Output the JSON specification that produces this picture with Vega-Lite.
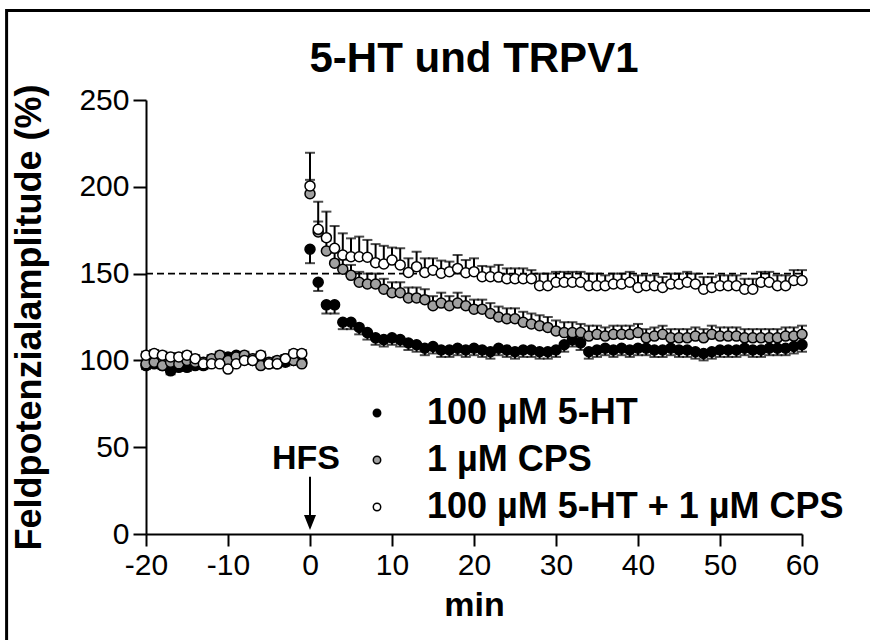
{
  "$schema": "https://vega.github.io/schema/vega-lite/v6.json",
  "autosize": "none",
  "width": 656,
  "height": 434,
  "padding": {"left": 146, "top": 100, "right": 68, "bottom": 106},
  "background": "white",
  "config": {
    "view": {"stroke": null},
    "font": "Liberation Sans",
    "axis": {"grid": false, "domainColor": "black", "domainWidth": 2, "tickColor": "black", "tickWidth": 2, "labelFlush": false,
      "labelFont": "Liberation Sans", "labelFontSize": 30, "labelColor": "black", "labelPadding": 4,
      "titleFont": "Liberation Sans", "titleFontSize": 34, "titleFontWeight": "bold", "titleColor": "black"},
    "axisX": {"tickSize": 12, "titlePadding": 8},
    "axisY": {"tickSize": 13, "titlePadding": 30, "titleFontSize": 36}
  },
  "title": {"text": "5-HT und TRPV1", "fontSize": 42, "fontWeight": "bold", "font": "Liberation Sans", "color": "black", "anchor": "middle", "frame": "group", "offset": 0, "dy": 72},
  "datasets": {
    "frame": [{"x1": -37, "x2": 90, "y1": -100, "y2": 301.6}],
    "ref": [{"x1": -20, "x2": 60, "v": 150}],
    "hfs": [{"t": 0, "v": 43, "label": "HFS", "top": 33, "bottom": 8, "head": 6.6}],
    "pts": [
      {"s":"100 µM 5-HT","t":-20,"v":97,"e":95},{"s":"100 µM 5-HT","t":-19,"v":98,"e":96},{"s":"100 µM 5-HT","t":-18,"v":97,"e":95},{"s":"100 µM 5-HT","t":-17,"v":94,"e":92},{"s":"100 µM 5-HT","t":-16,"v":96,"e":94},{"s":"100 µM 5-HT","t":-15,"v":96,"e":94},{"s":"100 µM 5-HT","t":-14,"v":97,"e":95},{"s":"100 µM 5-HT","t":-13,"v":97,"e":95},{"s":"100 µM 5-HT","t":-12,"v":99,"e":97},{"s":"100 µM 5-HT","t":-11,"v":102,"e":100},{"s":"100 µM 5-HT","t":-10,"v":102,"e":100},{"s":"100 µM 5-HT","t":-9,"v":103,"e":101},{"s":"100 µM 5-HT","t":-8,"v":101,"e":99},{"s":"100 µM 5-HT","t":-7,"v":100,"e":98},{"s":"100 µM 5-HT","t":-6,"v":99,"e":97},{"s":"100 µM 5-HT","t":-5,"v":98,"e":96},{"s":"100 µM 5-HT","t":-4,"v":98,"e":96},{"s":"100 µM 5-HT","t":-3,"v":99,"e":97},{"s":"100 µM 5-HT","t":-2,"v":100,"e":98},{"s":"100 µM 5-HT","t":-1,"v":99,"e":97},
      {"s":"100 µM 5-HT","t":0,"v":164,"e":156},{"s":"100 µM 5-HT","t":1,"v":145,"e":140},{"s":"100 µM 5-HT","t":2,"v":132,"e":127},{"s":"100 µM 5-HT","t":3,"v":132,"e":127},{"s":"100 µM 5-HT","t":4,"v":122,"e":118},{"s":"100 µM 5-HT","t":5,"v":122,"e":118},{"s":"100 µM 5-HT","t":6,"v":119,"e":115},{"s":"100 µM 5-HT","t":7,"v":116,"e":112},{"s":"100 µM 5-HT","t":8,"v":113,"e":109},{"s":"100 µM 5-HT","t":9,"v":112,"e":108},{"s":"100 µM 5-HT","t":10,"v":113,"e":109},{"s":"100 µM 5-HT","t":11,"v":112,"e":108},{"s":"100 µM 5-HT","t":12,"v":110,"e":106},{"s":"100 µM 5-HT","t":13,"v":109,"e":105},{"s":"100 µM 5-HT","t":14,"v":107,"e":103},{"s":"100 µM 5-HT","t":15,"v":108,"e":104},{"s":"100 µM 5-HT","t":16,"v":106,"e":102},{"s":"100 µM 5-HT","t":17,"v":106,"e":102},{"s":"100 µM 5-HT","t":18,"v":107,"e":103},{"s":"100 µM 5-HT","t":19,"v":106,"e":102},{"s":"100 µM 5-HT","t":20,"v":107,"e":103},{"s":"100 µM 5-HT","t":21,"v":106,"e":102},{"s":"100 µM 5-HT","t":22,"v":105,"e":101},{"s":"100 µM 5-HT","t":23,"v":107,"e":103},{"s":"100 µM 5-HT","t":24,"v":106,"e":102},{"s":"100 µM 5-HT","t":25,"v":105,"e":101},{"s":"100 µM 5-HT","t":26,"v":106,"e":102},{"s":"100 µM 5-HT","t":27,"v":106,"e":102},{"s":"100 µM 5-HT","t":28,"v":105,"e":101},{"s":"100 µM 5-HT","t":29,"v":105,"e":101},{"s":"100 µM 5-HT","t":30,"v":106,"e":102},{"s":"100 µM 5-HT","t":31,"v":109,"e":105},{"s":"100 µM 5-HT","t":32,"v":112,"e":108},{"s":"100 µM 5-HT","t":33,"v":110,"e":106},{"s":"100 µM 5-HT","t":34,"v":105,"e":101},{"s":"100 µM 5-HT","t":35,"v":106,"e":102},{"s":"100 µM 5-HT","t":36,"v":107,"e":103},{"s":"100 µM 5-HT","t":37,"v":106,"e":102},{"s":"100 µM 5-HT","t":38,"v":107,"e":103},{"s":"100 µM 5-HT","t":39,"v":106,"e":102},{"s":"100 µM 5-HT","t":40,"v":107,"e":103},{"s":"100 µM 5-HT","t":41,"v":107,"e":103},{"s":"100 µM 5-HT","t":42,"v":106,"e":102},{"s":"100 µM 5-HT","t":43,"v":106,"e":102},{"s":"100 µM 5-HT","t":44,"v":107,"e":103},{"s":"100 µM 5-HT","t":45,"v":106,"e":102},{"s":"100 µM 5-HT","t":46,"v":106,"e":102},{"s":"100 µM 5-HT","t":47,"v":105,"e":101},{"s":"100 µM 5-HT","t":48,"v":104,"e":100},{"s":"100 µM 5-HT","t":49,"v":105,"e":101},{"s":"100 µM 5-HT","t":50,"v":106,"e":102},{"s":"100 µM 5-HT","t":51,"v":106,"e":102},{"s":"100 µM 5-HT","t":52,"v":106,"e":102},{"s":"100 µM 5-HT","t":53,"v":107,"e":103},{"s":"100 µM 5-HT","t":54,"v":106,"e":102},{"s":"100 µM 5-HT","t":55,"v":106,"e":102},{"s":"100 µM 5-HT","t":56,"v":107,"e":103},{"s":"100 µM 5-HT","t":57,"v":107,"e":103},{"s":"100 µM 5-HT","t":58,"v":107,"e":103},{"s":"100 µM 5-HT","t":59,"v":108,"e":104},{"s":"100 µM 5-HT","t":60,"v":109,"e":105},
      {"s":"1 µM CPS","t":-20,"v":98,"e":100},{"s":"1 µM CPS","t":-19,"v":99,"e":101},{"s":"1 µM CPS","t":-18,"v":97,"e":99},{"s":"1 µM CPS","t":-17,"v":99,"e":101},{"s":"1 µM CPS","t":-16,"v":98,"e":100},{"s":"1 µM CPS","t":-15,"v":100,"e":102},{"s":"1 µM CPS","t":-14,"v":99,"e":101},{"s":"1 µM CPS","t":-13,"v":99,"e":101},{"s":"1 µM CPS","t":-12,"v":101,"e":103},{"s":"1 µM CPS","t":-11,"v":103,"e":105},{"s":"1 µM CPS","t":-10,"v":100,"e":102},{"s":"1 µM CPS","t":-9,"v":102,"e":104},{"s":"1 µM CPS","t":-8,"v":103,"e":105},{"s":"1 µM CPS","t":-7,"v":101,"e":103},{"s":"1 µM CPS","t":-6,"v":97,"e":99},{"s":"1 µM CPS","t":-5,"v":99,"e":101},{"s":"1 µM CPS","t":-4,"v":100,"e":102},{"s":"1 µM CPS","t":-3,"v":101,"e":103},{"s":"1 µM CPS","t":-2,"v":100,"e":102},{"s":"1 µM CPS","t":-1,"v":98,"e":100},
      {"s":"1 µM CPS","t":0,"v":196,"e":204},{"s":"1 µM CPS","t":1,"v":174,"e":180},{"s":"1 µM CPS","t":2,"v":163,"e":169},{"s":"1 µM CPS","t":3,"v":156,"e":162},{"s":"1 µM CPS","t":4,"v":152.5,"e":158},{"s":"1 µM CPS","t":5,"v":149,"e":155},{"s":"1 µM CPS","t":6,"v":145,"e":151},{"s":"1 µM CPS","t":7,"v":144,"e":150},{"s":"1 µM CPS","t":8,"v":144,"e":150},{"s":"1 µM CPS","t":9,"v":141,"e":147},{"s":"1 µM CPS","t":10,"v":139,"e":145},{"s":"1 µM CPS","t":11,"v":139,"e":145},{"s":"1 µM CPS","t":12,"v":136,"e":142},{"s":"1 µM CPS","t":13,"v":136,"e":142},{"s":"1 µM CPS","t":14,"v":135,"e":141},{"s":"1 µM CPS","t":15,"v":131.5,"e":137},{"s":"1 µM CPS","t":16,"v":133,"e":139},{"s":"1 µM CPS","t":17,"v":131.5,"e":137},{"s":"1 µM CPS","t":18,"v":133,"e":139},{"s":"1 µM CPS","t":19,"v":131.5,"e":137},{"s":"1 µM CPS","t":20,"v":129.5,"e":135},{"s":"1 µM CPS","t":21,"v":129.5,"e":135},{"s":"1 µM CPS","t":22,"v":127,"e":133},{"s":"1 µM CPS","t":23,"v":125,"e":131},{"s":"1 µM CPS","t":24,"v":124,"e":130},{"s":"1 µM CPS","t":25,"v":124,"e":130},{"s":"1 µM CPS","t":26,"v":122,"e":128},{"s":"1 µM CPS","t":27,"v":121,"e":127},{"s":"1 µM CPS","t":28,"v":120,"e":126},{"s":"1 µM CPS","t":29,"v":119,"e":125},{"s":"1 µM CPS","t":30,"v":117,"e":123},{"s":"1 µM CPS","t":31,"v":116,"e":122},{"s":"1 µM CPS","t":32,"v":116,"e":122},{"s":"1 µM CPS","t":33,"v":116,"e":121},{"s":"1 µM CPS","t":34,"v":114,"e":120},{"s":"1 µM CPS","t":35,"v":115,"e":120},{"s":"1 µM CPS","t":36,"v":114,"e":119},{"s":"1 µM CPS","t":37,"v":115,"e":120},{"s":"1 µM CPS","t":38,"v":115,"e":120},{"s":"1 µM CPS","t":39,"v":115,"e":120},{"s":"1 µM CPS","t":40,"v":116,"e":121},{"s":"1 µM CPS","t":41,"v":113,"e":118},{"s":"1 µM CPS","t":42,"v":114,"e":119},{"s":"1 µM CPS","t":43,"v":115,"e":120},{"s":"1 µM CPS","t":44,"v":113,"e":118},{"s":"1 µM CPS","t":45,"v":113,"e":118},{"s":"1 µM CPS","t":46,"v":113,"e":118},{"s":"1 µM CPS","t":47,"v":114,"e":119},{"s":"1 µM CPS","t":48,"v":113,"e":118},{"s":"1 µM CPS","t":49,"v":115,"e":120},{"s":"1 µM CPS","t":50,"v":114,"e":119},{"s":"1 µM CPS","t":51,"v":114,"e":119},{"s":"1 µM CPS","t":52,"v":114,"e":119},{"s":"1 µM CPS","t":53,"v":113,"e":118},{"s":"1 µM CPS","t":54,"v":113,"e":118},{"s":"1 µM CPS","t":55,"v":113,"e":118},{"s":"1 µM CPS","t":56,"v":113,"e":118},{"s":"1 µM CPS","t":57,"v":113,"e":118},{"s":"1 µM CPS","t":58,"v":114,"e":119},{"s":"1 µM CPS","t":59,"v":114,"e":119},{"s":"1 µM CPS","t":60,"v":115,"e":120},
      {"s":"100 µM 5-HT + 1 µM CPS","t":-20,"v":103,"e":105},{"s":"100 µM 5-HT + 1 µM CPS","t":-19,"v":104,"e":106},{"s":"100 µM 5-HT + 1 µM CPS","t":-18,"v":103,"e":105},{"s":"100 µM 5-HT + 1 µM CPS","t":-17,"v":102,"e":104},{"s":"100 µM 5-HT + 1 µM CPS","t":-16,"v":102,"e":104},{"s":"100 µM 5-HT + 1 µM CPS","t":-15,"v":103,"e":105},{"s":"100 µM 5-HT + 1 µM CPS","t":-14,"v":101,"e":103},{"s":"100 µM 5-HT + 1 µM CPS","t":-13,"v":98,"e":100},{"s":"100 µM 5-HT + 1 µM CPS","t":-12,"v":98,"e":100},{"s":"100 µM 5-HT + 1 µM CPS","t":-11,"v":98,"e":100},{"s":"100 µM 5-HT + 1 µM CPS","t":-10,"v":95,"e":97},{"s":"100 µM 5-HT + 1 µM CPS","t":-9,"v":98,"e":100},{"s":"100 µM 5-HT + 1 µM CPS","t":-8,"v":100,"e":102},{"s":"100 µM 5-HT + 1 µM CPS","t":-7,"v":100,"e":102},{"s":"100 µM 5-HT + 1 µM CPS","t":-6,"v":103,"e":105},{"s":"100 µM 5-HT + 1 µM CPS","t":-5,"v":98,"e":100},{"s":"100 µM 5-HT + 1 µM CPS","t":-4,"v":98,"e":100},{"s":"100 µM 5-HT + 1 µM CPS","t":-3,"v":101,"e":103},{"s":"100 µM 5-HT + 1 µM CPS","t":-2,"v":104,"e":106},{"s":"100 µM 5-HT + 1 µM CPS","t":-1,"v":104,"e":106},
      {"s":"100 µM 5-HT + 1 µM CPS","t":0,"v":200.5,"e":219.6},{"s":"100 µM 5-HT + 1 µM CPS","t":1,"v":175.5,"e":191.4},{"s":"100 µM 5-HT + 1 µM CPS","t":2,"v":170.7,"e":185.7},{"s":"100 µM 5-HT + 1 µM CPS","t":3,"v":164.6,"e":177.4},{"s":"100 µM 5-HT + 1 µM CPS","t":4,"v":160.7,"e":173.2},{"s":"100 µM 5-HT + 1 µM CPS","t":5,"v":159.7,"e":170.3},{"s":"100 µM 5-HT + 1 µM CPS","t":6,"v":159.7,"e":171.3},{"s":"100 µM 5-HT + 1 µM CPS","t":7,"v":159.4,"e":169.4},{"s":"100 µM 5-HT + 1 µM CPS","t":8,"v":156.3,"e":167},{"s":"100 µM 5-HT + 1 µM CPS","t":9,"v":155.5,"e":166},{"s":"100 µM 5-HT + 1 µM CPS","t":10,"v":157.8,"e":165},{"s":"100 µM 5-HT + 1 µM CPS","t":11,"v":155,"e":164.6},{"s":"100 µM 5-HT + 1 µM CPS","t":12,"v":150.7,"e":158.8},{"s":"100 µM 5-HT + 1 µM CPS","t":13,"v":154,"e":162.6},{"s":"100 µM 5-HT + 1 µM CPS","t":14,"v":150.7,"e":158.8},{"s":"100 µM 5-HT + 1 µM CPS","t":15,"v":152,"e":158.8},{"s":"100 µM 5-HT + 1 µM CPS","t":16,"v":150.2,"e":157.5},{"s":"100 µM 5-HT + 1 µM CPS","t":17,"v":151.1,"e":156.9},{"s":"100 µM 5-HT + 1 µM CPS","t":18,"v":153,"e":160.7},{"s":"100 µM 5-HT + 1 µM CPS","t":19,"v":150.5,"e":157.8},{"s":"100 µM 5-HT + 1 µM CPS","t":20,"v":151.1,"e":158.8},{"s":"100 µM 5-HT + 1 µM CPS","t":21,"v":148.2,"e":154.4},{"s":"100 µM 5-HT + 1 µM CPS","t":22,"v":148.2,"e":154},{"s":"100 µM 5-HT + 1 µM CPS","t":23,"v":148,"e":155},{"s":"100 µM 5-HT + 1 µM CPS","t":24,"v":147,"e":153},{"s":"100 µM 5-HT + 1 µM CPS","t":25,"v":147,"e":153},{"s":"100 µM 5-HT + 1 µM CPS","t":26,"v":147,"e":153},{"s":"100 µM 5-HT + 1 µM CPS","t":27,"v":147,"e":152},{"s":"100 µM 5-HT + 1 µM CPS","t":28,"v":143,"e":150},{"s":"100 µM 5-HT + 1 µM CPS","t":29,"v":143,"e":150},{"s":"100 µM 5-HT + 1 µM CPS","t":30,"v":145,"e":151},{"s":"100 µM 5-HT + 1 µM CPS","t":31,"v":145,"e":151},{"s":"100 µM 5-HT + 1 µM CPS","t":32,"v":145,"e":151},{"s":"100 µM 5-HT + 1 µM CPS","t":33,"v":145,"e":151},{"s":"100 µM 5-HT + 1 µM CPS","t":34,"v":143,"e":150},{"s":"100 µM 5-HT + 1 µM CPS","t":35,"v":143,"e":150},{"s":"100 µM 5-HT + 1 µM CPS","t":36,"v":143,"e":149},{"s":"100 µM 5-HT + 1 µM CPS","t":37,"v":144,"e":150},{"s":"100 µM 5-HT + 1 µM CPS","t":38,"v":144,"e":150},{"s":"100 µM 5-HT + 1 µM CPS","t":39,"v":145,"e":151},{"s":"100 µM 5-HT + 1 µM CPS","t":40,"v":142,"e":149},{"s":"100 µM 5-HT + 1 µM CPS","t":41,"v":143,"e":149},{"s":"100 µM 5-HT + 1 µM CPS","t":42,"v":143,"e":149},{"s":"100 µM 5-HT + 1 µM CPS","t":43,"v":142,"e":148},{"s":"100 µM 5-HT + 1 µM CPS","t":44,"v":144,"e":150},{"s":"100 µM 5-HT + 1 µM CPS","t":45,"v":144,"e":150},{"s":"100 µM 5-HT + 1 µM CPS","t":46,"v":145,"e":151},{"s":"100 µM 5-HT + 1 µM CPS","t":47,"v":144,"e":150},{"s":"100 µM 5-HT + 1 µM CPS","t":48,"v":141,"e":148},{"s":"100 µM 5-HT + 1 µM CPS","t":49,"v":142,"e":148},{"s":"100 µM 5-HT + 1 µM CPS","t":50,"v":143,"e":149},{"s":"100 µM 5-HT + 1 µM CPS","t":51,"v":143,"e":149},{"s":"100 µM 5-HT + 1 µM CPS","t":52,"v":143,"e":149},{"s":"100 µM 5-HT + 1 µM CPS","t":53,"v":141,"e":147},{"s":"100 µM 5-HT + 1 µM CPS","t":54,"v":141,"e":147},{"s":"100 µM 5-HT + 1 µM CPS","t":55,"v":145,"e":151},{"s":"100 µM 5-HT + 1 µM CPS","t":56,"v":145,"e":151},{"s":"100 µM 5-HT + 1 µM CPS","t":57,"v":143,"e":149},{"s":"100 µM 5-HT + 1 µM CPS","t":58,"v":143,"e":149},{"s":"100 µM 5-HT + 1 µM CPS","t":59,"v":146,"e":152},{"s":"100 µM 5-HT + 1 µM CPS","t":60,"v":146,"e":152}
    ]
  },
  "layer": [
    {
      "data": {"name": "frame"},
      "mark": {"type": "rect", "filled": false, "stroke": "black", "strokeWidth": 3, "clip": false},
      "encoding": {
        "x": {"field": "x1", "type": "quantitative", "title": "min", "scale": {"domain": [-20, 60], "nice": false, "zero": false}},
        "x2": {"field": "x2"},
        "y": {"field": "y1", "type": "quantitative", "title": "Feldpotenzialamplitude (%)", "scale": {"domain": [0, 250], "nice": false, "zero": false}},
        "y2": {"field": "y2"}
      }
    },
    {
      "data": {"name": "ref"},
      "mark": {"type": "rule", "stroke": "black", "strokeWidth": 1.6, "strokeDash": [7, 4]},
      "encoding": {
        "x": {"field": "x1", "type": "quantitative", "title": "min", "scale": {"domain": [-20, 60], "nice": false, "zero": false}},
        "x2": {"field": "x2"},
        "y": {"field": "v", "type": "quantitative", "title": "Feldpotenzialamplitude (%)", "scale": {"domain": [0, 250], "nice": false, "zero": false}}
      }
    },
    {
      "data": {"name": "pts"},
      "mark": {"type": "rule", "stroke": "black", "strokeWidth": 2},
      "encoding": {
        "x": {"field": "t", "type": "quantitative", "title": "min", "scale": {"domain": [-20, 60], "nice": false, "zero": false}},
        "y": {"field": "v", "type": "quantitative", "title": "Feldpotenzialamplitude (%)", "scale": {"domain": [0, 250], "nice": false, "zero": false}},
        "y2": {"field": "e"}
      }
    },
    {
      "data": {"name": "pts"},
      "mark": {"type": "tick", "orient": "horizontal", "color": "black", "size": 10, "thickness": 2},
      "encoding": {
        "x": {"field": "t", "type": "quantitative", "title": "min", "scale": {"domain": [-20, 60], "nice": false, "zero": false}},
        "y": {"field": "e", "type": "quantitative", "title": "Feldpotenzialamplitude (%)", "scale": {"domain": [0, 250], "nice": false, "zero": false}}
      }
    },
    {
      "data": {"name": "pts"},
      "mark": {"type": "point", "shape": "circle", "filled": true, "stroke": "black", "strokeWidth": 1.5, "size": 100, "opacity": 1},
      "encoding": {
        "x": {
          "field": "t", "type": "quantitative", "title": "min",
          "scale": {"domain": [-20, 60], "nice": false, "zero": false},
          "axis": {"values": [-20, -10, 0, 10, 20, 30, 40, 50, 60], "labelExpr": "replace(datum.label, '−', '-')"}
        },
        "y": {
          "field": "v", "type": "quantitative", "title": "Feldpotenzialamplitude (%)",
          "scale": {"domain": [0, 250], "nice": false, "zero": false},
          "axis": {"values": [0, 50, 100, 150, 200, 250]}
        },
        "fill": {
          "field": "s", "type": "nominal",
          "scale": {"domain": ["100 µM 5-HT", "1 µM CPS", "100 µM 5-HT + 1 µM CPS"], "range": ["black", "#a0a0a0", "white"]},
          "legend": {
            "title": null, "orient": "none", "legendX": 213, "legendY": 295, "padding": 0,
            "symbolType": "circle", "symbolSize": 55, "symbolStrokeColor": "black", "symbolStrokeWidth": 1.5, "symbolOpacity": 1,
            "labelFont": "Liberation Sans", "labelFontSize": 36, "labelFontWeight": "bold", "labelColor": "black",
            "labelOffset": 32, "rowPadding": 11, "labelLimit": 600
          }
        }
      }
    },
    {
      "data": {"name": "hfs"},
      "mark": {"type": "text", "font": "Liberation Sans", "fontSize": 34, "fontWeight": "bold", "color": "black", "baseline": "middle", "align": "center", "dx": -4},
      "encoding": {
        "x": {"field": "t", "type": "quantitative", "title": "min", "scale": {"domain": [-20, 60], "nice": false, "zero": false}},
        "y": {"field": "v", "type": "quantitative", "title": "Feldpotenzialamplitude (%)", "scale": {"domain": [0, 250], "nice": false, "zero": false}},
        "text": {"field": "label"}
      }
    },
    {
      "data": {"name": "hfs"},
      "mark": {"type": "rule", "stroke": "black", "strokeWidth": 2},
      "encoding": {
        "x": {"field": "t", "type": "quantitative", "title": "min", "scale": {"domain": [-20, 60], "nice": false, "zero": false}},
        "y": {"field": "top", "type": "quantitative", "title": "Feldpotenzialamplitude (%)", "scale": {"domain": [0, 250], "nice": false, "zero": false}},
        "y2": {"field": "bottom"}
      }
    },
    {
      "data": {"name": "hfs"},
      "mark": {"type": "point", "shape": "M-0.8,-1L0.8,-1L0,1Z", "filled": true, "color": "black", "size": 225, "opacity": 1},
      "encoding": {
        "x": {"field": "t", "type": "quantitative", "title": "min", "scale": {"domain": [-20, 60], "nice": false, "zero": false}},
        "y": {"field": "head", "type": "quantitative", "title": "Feldpotenzialamplitude (%)", "scale": {"domain": [0, 250], "nice": false, "zero": false}}
      }
    }
  ]
}
